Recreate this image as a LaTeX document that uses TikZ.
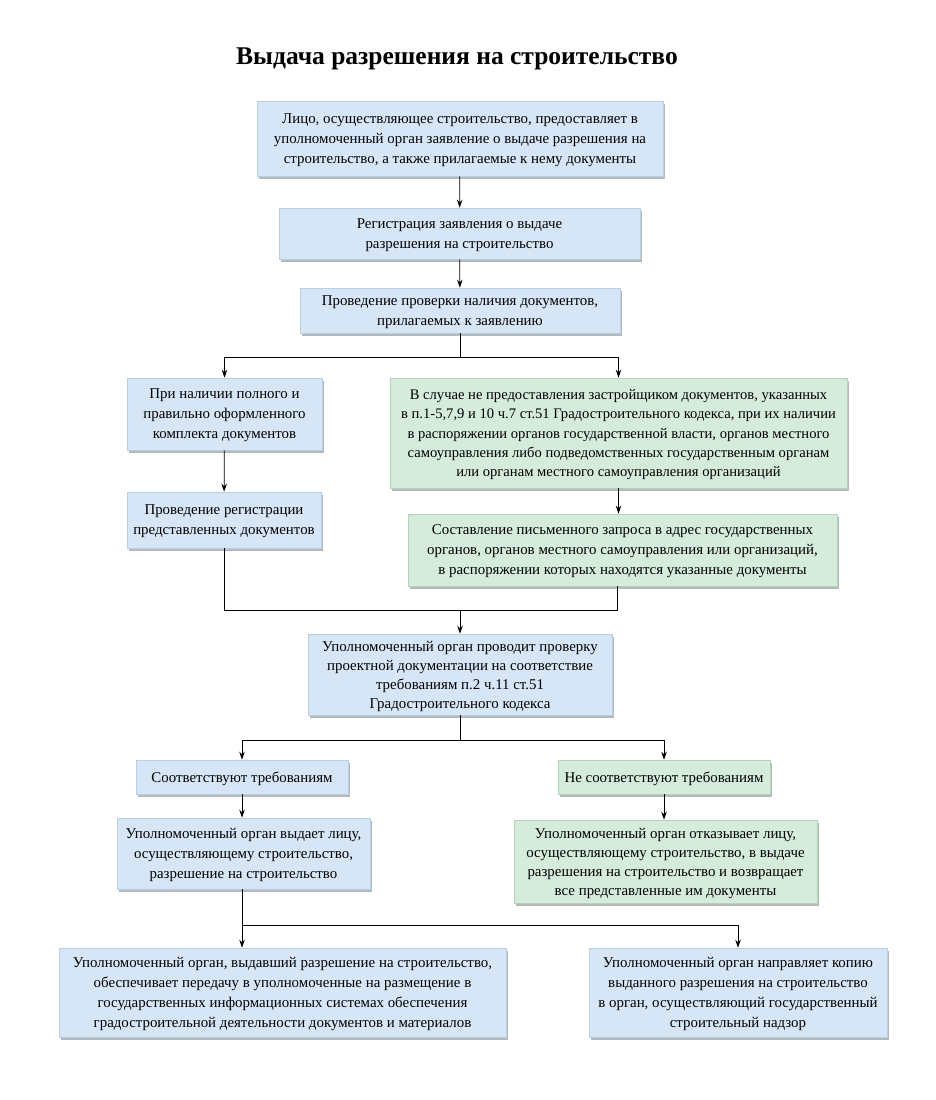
\documentclass[tikz,border=0pt]{standalone}
\usepackage{fontspec}
\setmainfont{Liberation Serif}
\usetikzlibrary{shadows,arrows.meta,calc}
\definecolor{bluefill}{HTML}{D6E6F6}
\definecolor{greenfill}{HTML}{D5EBDC}
\definecolor{blueedge}{HTML}{B9CFE6}
\definecolor{greenedge}{HTML}{B3D3BE}
\tikzset{
  boxbase/.style={rectangle, inner sep=2pt, align=center, text depth=0pt, font=\fontsize{14.9}{20}\selectfont,
     drop shadow={shadow xshift=2pt, shadow yshift=-2.5pt, fill=black!35, opacity=0.8}},
  bbox/.style={boxbase, fill=bluefill, draw=blueedge, line width=0.6pt},
  gbox/.style={boxbase, fill=greenfill, draw=greenedge, line width=0.6pt},
  conn/.style={line width=0.8pt, black},
  arr/.style={conn, -{Stealth[length=8pt, width=5.5pt]}},
}
\begin{document}
\begin{tikzpicture}[x=1pt, y=-1pt]
\useasboundingbox (0,0) rectangle (936,1100);
\node[font=\fontsize{25.5}{30}\selectfont\bfseries] (title) at (457,59) {Выдача разрешения на строительство};

\node[bbox, minimum width=406pt, minimum height=75pt] (n1) at (460,138.5)
 {Лицо, осуществляющее строительство, предоставляет в\\уполномоченный орган заявление о выдаче разрешения на\\строительство, а также прилагаемые к нему документы};
\node[bbox, minimum width=361pt, minimum height=51pt] (n2) at (459.5,233.5)
 {Регистрация заявления о выдаче\\разрешения на строительство};
\node[bbox, minimum width=320pt, minimum height=45pt] (n3) at (460,310.5)
 {Проведение проверки наличия документов,\\прилагаемых к заявлению};
\node[bbox, minimum width=195pt, minimum height=72pt] (n4) at (224.5,414)
 {При наличии полного и\\правильно оформленного\\комплекта документов};
\node[gbox, minimum width=457pt, minimum height=110pt, font=\fontsize{14.6}{19.2}\selectfont] (n5) at (618.5,433)
 {В случае не предоставления застройщиком документов, указанных\\в п.1-5,7,9 и 10 ч.7 ст.51 Градостроительного кодекса, при их наличии\\в распоряжении органов государственной власти, органов местного\\самоуправления либо подведомственных государственным органам\\или органам местного самоуправления организаций};
\node[bbox, minimum width=194pt, minimum height=56pt] (n6) at (224,520)
 {Проведение регистрации\\представленных документов};
\node[gbox, minimum width=429pt, minimum height=72pt] (n7) at (622.5,550)
 {Составление письменного запроса в адрес государственных\\органов, органов местного самоуправления или организаций,\\ в распоряжении которых находятся указанные документы};
\node[bbox, minimum width=304pt, minimum height=81pt, font=\fontsize{14.9}{19}\selectfont] (n8) at (460,674.5)
 {Уполномоченный орган проводит проверку\\проектной документации на соответствие\\требованиям п.2 ч.11 ст.51\\Градостроительного кодекса};
\node[bbox, minimum width=212pt, minimum height=34pt] (n9) at (242,777)
 {Соответствуют требованиям};
\node[gbox, minimum width=212pt, minimum height=34pt] (n10) at (664,777)
 {Не соответствуют требованиям};
\node[bbox, minimum width=253pt, minimum height=71pt] (n11) at (243.5,853.5)
 {Уполномоченный орган выдает лицу,\\осуществляющему строительство,\\разрешение на строительство};
\node[gbox, minimum width=303pt, minimum height=83pt, font=\fontsize{14.9}{19}\selectfont] (n12) at (665.5,861.5)
 {Уполномоченный орган отказывает лицу,\\осуществляющему строительство, в выдаче\\разрешения на строительство и возвращает\\все представленные им документы};
\node[bbox, minimum width=447pt, minimum height=89pt] (n13) at (282.5,992.5)
 {Уполномоченный орган, выдавший разрешение на строительство,\\обеспечивает передачу в уполномоченные на размещение в\\государственных информационных системах обеспечения\\градостроительной деятельности документов и материалов};
\node[bbox, minimum width=298pt, minimum height=89pt] (n14) at (738,992.5)
 {Уполномоченный орган направляет копию\\выданного разрешения на строительство\\в орган, осуществляющий государственный\\строительный надзор};

\draw[arr] (n1) -- (n2);
\draw[arr] (n2) -- (n3);
\coordinate (j1) at (460,357);
\draw[conn] (n3) -- (j1);
\draw[arr] (j1) -| (n4);
\draw[arr] (j1) -| (n5);
\draw[arr] (n4) -- (n6);
\draw[arr] (n5.south) -- (n5.south |- n7.north);
\coordinate (j2) at (460,610);
\coordinate (m1) at (617,610);
\draw[conn] (n6.south) |- (m1) -- (m1 |- n7.south);
\draw[arr] (j2) -- (n8);
\coordinate (j3) at (460,740);
\draw[conn] (n8) -- (j3);
\draw[arr] (j3) -| (n9);
\draw[arr] (j3) -| (n10);
\draw[arr] (n9) -- (n9 |- n11.north);
\draw[arr] (n10) -- (n10 |- n12.north);
\coordinate (j4) at (242,925);
\draw[conn] (n11.south -| j4) -- (j4);
\draw[arr] (j4) -- (j4 |- n13.north);
\draw[arr] (j4) -| (n14);
\end{tikzpicture}
\end{document}
